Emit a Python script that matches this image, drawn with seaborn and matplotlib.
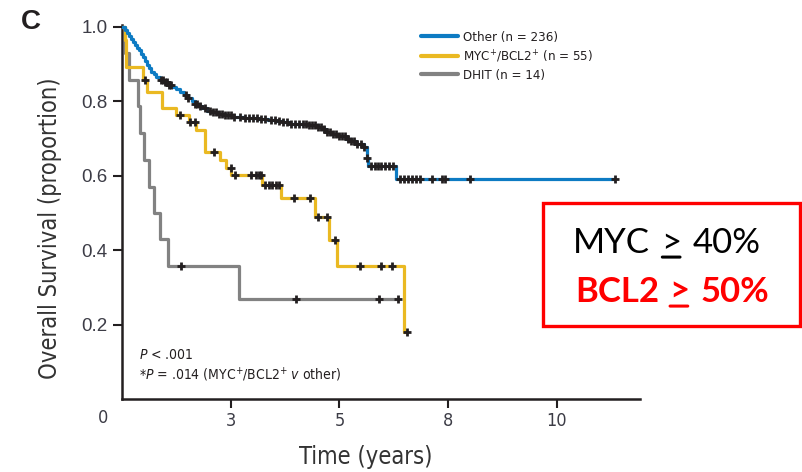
import numpy as np
import pandas as pd
import matplotlib
matplotlib.use("Agg")
import matplotlib.pyplot as plt
import seaborn as sns
from matplotlib.lines import Line2D
from matplotlib.patches import Rectangle
from matplotlib import font_manager as fm

# ---------------- data ----------------
groups = ["Other (n = 236)", "MYC$^{+}$/BCL2$^{+}$ (n = 55)", "DHIT (n = 14)"]
colors = ["#0d7bc3", "#eab922", "#828282"]

other_t = [0.06, 0.09, 0.13, 0.17, 0.20, 0.24, 0.28, 0.31, 0.35, 0.39, 0.42, 0.46,
           0.50, 0.53, 0.58, 0.63, 0.70, 0.77, 0.85, 0.92, 0.99, 1.07, 1.14, 1.21,
           1.28, 1.34, 1.41, 1.47, 1.56, 1.66, 1.77, 1.90, 2.04, 2.24, 2.50, 2.69,
           2.83, 2.96, 3.09, 3.42, 3.61, 3.68, 3.75, 3.85, 3.97, 4.12, 4.21, 4.31,
           4.45, 4.50, 4.52, 5.05]
other_s = [0.991, 0.984, 0.976, 0.968, 0.959, 0.951, 0.943, 0.937, 0.928, 0.919,
           0.908, 0.898, 0.889, 0.880, 0.872, 0.865, 0.858, 0.851, 0.845, 0.838,
           0.833, 0.826, 0.818, 0.810, 0.802, 0.794, 0.787, 0.781, 0.775, 0.771,
           0.767, 0.763, 0.759, 0.756, 0.753, 0.751, 0.748, 0.744, 0.740, 0.737,
           0.731, 0.725, 0.718, 0.712, 0.706, 0.699, 0.693, 0.685, 0.677, 0.647,
           0.626, 0.592]
other_c = [0.72, 0.75, 0.79, 0.83, 0.86, 0.90, 1.18, 1.21, 1.34, 1.38, 1.44, 1.53,
           1.62, 1.67, 1.73, 1.78, 1.84, 1.90, 1.95, 2.01, 2.06, 2.17, 2.26, 2.34,
           2.41, 2.48, 2.56, 2.63, 2.74, 2.82, 2.89, 2.96, 3.04, 3.11, 3.18, 3.26,
           3.33, 3.39, 3.44, 3.50, 3.55, 3.61, 3.66, 3.72, 3.77, 3.83, 3.88, 3.94,
           3.99, 4.05, 4.10, 4.16, 4.21, 4.27, 4.32, 4.40, 4.46, 4.51, 4.58, 4.66,
           4.71, 4.77, 4.84, 4.91, 4.99, 5.12, 5.19, 5.26, 5.34, 5.41, 5.48, 5.70,
           5.89, 5.94, 6.40, 9.07]

myc_t = [0.05, 0.08, 0.39, 0.46, 0.74, 1.00, 1.23, 1.37, 1.53, 1.80, 1.92, 2.01,
         2.58, 2.93, 3.55, 3.80, 3.95, 5.19]
myc_s = [0.964, 0.892, 0.857, 0.824, 0.781, 0.763, 0.745, 0.722, 0.664, 0.642,
         0.621, 0.601, 0.574, 0.539, 0.489, 0.428, 0.357, 0.180]
myc_c = [0.42, 1.07, 1.26, 1.34, 1.69, 2.00, 2.07, 2.38, 2.47, 2.52, 2.56, 2.63,
         2.70, 2.76, 2.83, 2.88, 3.17, 3.46, 3.61, 3.78, 3.92, 4.38, 4.76, 4.96, 5.24]

dhit_t = [0.06, 0.13, 0.29, 0.34, 0.40, 0.49, 0.59, 0.70, 0.85, 2.15]
dhit_s = [0.929, 0.857, 0.786, 0.714, 0.643, 0.571, 0.500, 0.429, 0.357, 0.268]
dhit_c = [1.08, 3.21, 4.73, 5.08]

xtick_pos = [2, 4, 6, 8]
xtick_labels = ["3", "5", "8", "10"]
ytick_vals = [0.2, 0.4, 0.6, 0.8, 1.0]
ytick_labels = ["0.2", "0.4", "0.6", "0.8", "1.0"]

# ---------------- build frames ----------------
series = [(groups[0], other_t, other_s, other_c),
          (groups[1], myc_t, myc_s, myc_c),
          (groups[2], dhit_t, dhit_s, dhit_c)]
line_rows, cens_rows = [], []
for name, t, s, c in series:
    end = max(c[-1], t[-1])
    times = np.array([0.0] + t + [end])
    surv = np.array([1.0] + s + [s[-1]])
    for a, b in zip(times, surv):
        line_rows.append((name, a, b))
    idx = np.searchsorted(times, np.array(c), side="right") - 1
    for a, b in zip(c, surv[idx]):
        cens_rows.append((name, a, b))
lines = pd.DataFrame(line_rows, columns=["group", "time", "surv"])
cens = pd.DataFrame(cens_rows, columns=["group", "time", "surv"])

# ---------------- fonts ----------------
sns.set_style("white")
names = {f.name for f in fm.fontManager.ttflist}
narrow = "Liberation Sans Narrow" if "Liberation Sans Narrow" in names else "DejaVu Sans"
plt.rcParams["font.family"] = [narrow, "DejaVu Sans"]
plt.rcParams["font.stretch"] = "condensed"
plt.rcParams["mathtext.fontset"] = "custom"
plt.rcParams["mathtext.rm"] = narrow
plt.rcParams["mathtext.it"] = narrow + ":italic"

W, H = 803, 472
fig = plt.figure(figsize=(W / 100, H / 100), dpi=100)
ax = fig.add_axes([122 / W, 1 - 399 / H, (640 - 122) / W, (399 - 25) / H])

ink = "#231f20"
tick_col = "#3c3c46"
pal = dict(zip(groups, colors))
for g in [groups[2], groups[1], groups[0]]:
    sns.lineplot(data=lines[lines.group == g], x="time", y="surv", color=pal[g],
                 drawstyle="steps-post", estimator=None, sort=False, lw=2.3,
                 legend=False, ax=ax, zorder=3)
sns.scatterplot(data=cens, x="time", y="surv", marker="+", s=40, color=ink,
                linewidth=2.0, legend=False, ax=ax, zorder=5)

ax.set_xlim(0, 9.53)
ax.set_ylim(0, 1.005)
for sp in ["top", "right"]:
    ax.spines[sp].set_visible(False)
for sp in ["left", "bottom"]:
    ax.spines[sp].set_color(ink)
    ax.spines[sp].set_linewidth(1.8)

ax.set_xticks(xtick_pos)
ax.set_xticklabels(xtick_labels, fontsize=13, color=tick_col)
ax.set_yticks(ytick_vals)
ax.set_yticklabels(ytick_labels, fontsize=13.5, color=tick_col,
                   family=["Liberation Sans", "DejaVu Sans"], fontstretch="normal")
ax.tick_params(axis="both", direction="out", length=6.5, width=1.5, color=ink,
               left=True, bottom=True)
ax.tick_params(axis="x", pad=3)
ax.tick_params(axis="y", pad=4)
fig.text(103 / W, 1 - 418 / H, "0", ha="center", va="center", fontsize=13,
         color=tick_col)

ax.set_xlabel("")
ax.set_ylabel("")
fig.text(366 / W, 1 - 457 / H, "Time (years)", ha="center", va="center",
         fontsize=17, color="#333333")
fig.text(50 / W, 1 - 228 / H, "Overall Survival (proportion)", ha="center",
         va="center", rotation=90, fontsize=17, color="#333333")

fig.text(31 / W, 1 - 22 / H, "C", ha="center", va="center", fontsize=20,
         fontweight="bold", fontstretch="normal",
         family=["Liberation Sans", "DejaVu Sans"], color=ink)

# legend
handles = [Line2D([], [], color=c, lw=3.0) for c in colors]
ax.legend(handles, groups, loc="upper left", bbox_to_anchor=(421 / W, 1 - 31 / H),
          bbox_transform=fig.transFigure, frameon=False, fontsize=9.5,
          handlelength=2.8, handletextpad=0.35, labelspacing=0.32,
          borderpad=0, borderaxespad=0, labelcolor=ink)

# p-values
fig.text(139 / W, 1 - 355 / H, "$\\mathit{P}$ < .001", ha="left", va="center",
         fontsize=10, color=ink)
fig.text(139 / W, 1 - 375 / H,
         "*$\\mathit{P}$ = .014 (MYC$^{+}$/BCL2$^{+}$ $\\mathit{v}$ other)",
         ha="left", va="center", fontsize=10, color=ink)

# red box
fig.patches.append(Rectangle((543 / W, 1 - 326 / H), (800 - 543) / W, (326 - 203) / H,
                             transform=fig.transFigure, fill=False,
                             edgecolor="#ff0000", lw=2.4, zorder=10))

def underlined_line(x0, ybase, parts, gaps, color, weight):
    kw = dict(fontsize=25, color=color, fontweight=weight,
              family=["Lato", "DejaVu Sans"], fontstretch="normal")
    prev = fig.text(x0 / W, 1 - ybase / H, parts[0], ha="left", va="baseline", **kw)
    mid = None
    for i, p in enumerate(parts[1:]):
        t = ax.annotate(p, xy=(1, 0), xycoords=prev, xytext=(gaps[i], 0),
                        textcoords="offset points", ha="left", va="bottom",
                        annotation_clip=False, **kw)
        if i == 0:
            mid = t
        prev = t
    ax.annotate("", xy=(0.06, 0.06), xycoords=mid, xytext=(0.94, 0.06),
                textcoords=mid,
                arrowprops=dict(arrowstyle="-", lw=2.2, color=color,
                                shrinkA=0, shrinkB=0), annotation_clip=False)

underlined_line(573, 253, ["MYC", ">", "40%"], [8, 8.5], "black", "normal")
underlined_line(575, 302, ["BCL2", ">", "50%"], [7, 8.5], "#ff0000", "bold")

fig.savefig("out.png", dpi=100)
